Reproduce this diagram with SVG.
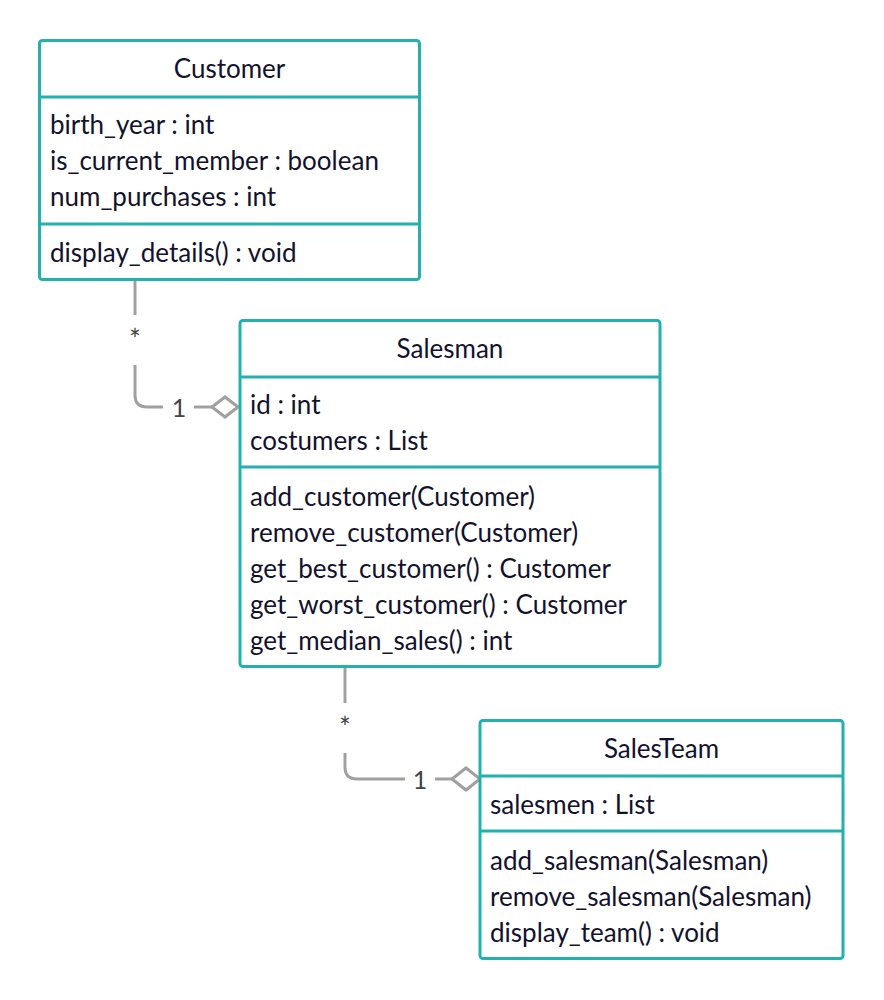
<svg xmlns="http://www.w3.org/2000/svg" width="884" height="1000" viewBox="0 0 884 1000">
<style>
.box{fill:#ffffff;stroke:#22b1ad;stroke-width:3}
.div{stroke:#22b1ad;stroke-width:3}
.t{font-family:Lato,"Liberation Sans",sans-serif;font-size:26px;fill:#12122e}
.c{text-anchor:middle}
.ln{fill:none;stroke:#a0a0a0;stroke-width:3}
.dm{fill:#ffffff;stroke:#a0a0a0;stroke-width:3}
.m{font-family:Lato,"Liberation Sans",sans-serif;fill:#444444;text-anchor:middle}
.st{font-size:28px}
.one{font-size:25px}
</style>
<rect width="884" height="1000" fill="#ffffff"/>
<g id="connectors">
<path class="ln" d="M135,280 V315"/>
<path class="ln" d="M135,365 V395 Q135,407 147,407 H163"/>
<path class="ln" d="M194,407 H212"/>
<polygon class="dm" points="212,407 225,397 238,407 225,417"/>
<text class="m st" x="135" y="350">*</text>
<text class="m one" x="179" y="417">1</text>
<path class="ln" d="M345,667 V703"/>
<path class="ln" d="M345,753 V767 Q345,779 357,779 H405"/>
<path class="ln" d="M435,779 H452"/>
<polygon class="dm" points="452,779 466,768 480,779 466,790"/>
<text class="m st" x="345" y="738">*</text>
<text class="m one" x="420" y="789">1</text>
</g>
<g id="customer">
<rect class="box" x="39.5" y="40.5" width="380" height="239" rx="3"/>
<line class="div" x1="39.5" y1="97" x2="419.5" y2="97"/>
<line class="div" x1="39.5" y1="224" x2="419.5" y2="224"/>
<text class="t c" x="229.5" y="78">Customer</text>
<text class="t" x="50" y="134">birth_year : int</text>
<text class="t" x="50" y="170">is_current_member : boolean</text>
<text class="t" x="50" y="206">num_purchases : int</text>
<text class="t" x="50" y="262">display_details() : void</text>
</g>
<g id="salesman">
<rect class="box" x="240" y="320.5" width="420" height="346" rx="3"/>
<line class="div" x1="240" y1="377" x2="660" y2="377"/>
<line class="div" x1="240" y1="467" x2="660" y2="467"/>
<text class="t c" x="450" y="358">Salesman</text>
<text class="t" x="250" y="414">id : int</text>
<text class="t" x="250" y="450">costumers : List</text>
<text class="t" x="250" y="506">add_customer(Customer)</text>
<text class="t" x="250" y="542">remove_customer(Customer)</text>
<text class="t" x="250" y="578">get_best_customer() : Customer</text>
<text class="t" x="250" y="614">get_worst_customer() : Customer</text>
<text class="t" x="250" y="650">get_median_sales() : int</text>
</g>
<g id="salesteam">
<rect class="box" x="480" y="720.5" width="363" height="238" rx="3"/>
<line class="div" x1="480" y1="776" x2="843" y2="776"/>
<line class="div" x1="480" y1="831" x2="843" y2="831"/>
<text class="t c" x="661.5" y="758">SalesTeam</text>
<text class="t" x="490" y="814">salesmen : List</text>
<text class="t" x="490" y="870">add_salesman(Salesman)</text>
<text class="t" x="490" y="906">remove_salesman(Salesman)</text>
<text class="t" x="490" y="942">display_team() : void</text>
</g>
</svg>
